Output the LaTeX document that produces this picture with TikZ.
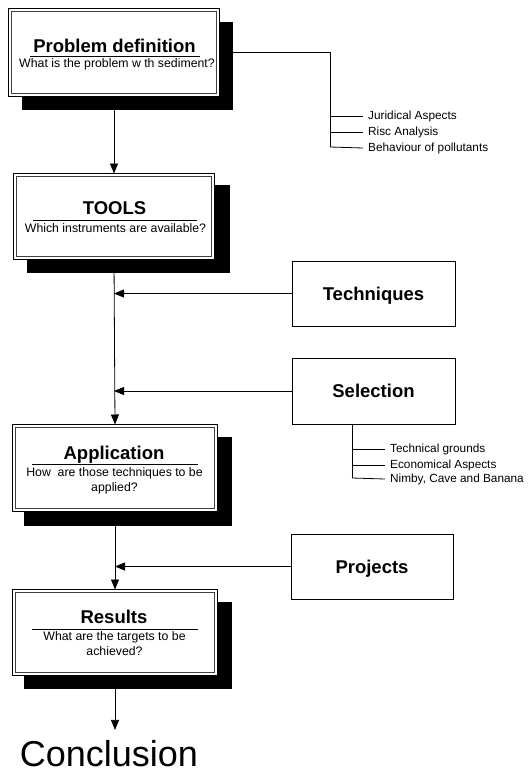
\documentclass[tikz,border=0pt]{standalone}
\usepackage{fontspec}
\setmainfont{Liberation Sans}
\usetikzlibrary{arrows.meta,calc}
\pgfdeclarelayer{bg}
\pgfsetlayers{bg,main}
\newcommand\ttlfont{\fontsize{18.5}{20}\selectfont\bfseries}
\newcommand\subfont{\fontsize{12.3}{15}\selectfont}
\newcommand\brfont{\fontsize{11.8}{14}\selectfont}
\begin{document}
\begin{tikzpicture}[x=1pt,y=-1pt,
  mainbox/.style={draw, line width=1pt, fill=white, inner sep=0pt, outer sep=0pt,
    postaction={draw=none, path picture={
      \draw[line width=0.9pt, black!75] ($(path picture bounding box.north west)+(3,3)$) rectangle ($(path picture bounding box.south east)+(-3,-3)$);}}},
  sidebox/.style={draw, line width=0.9pt, fill=white, inner sep=0pt, outer sep=0pt,
    minimum width=163, minimum height=65, font=\ttlfont, text height=13.3pt, text depth=0pt},
  ttl/.style={anchor=base, inner sep=0pt, font=\ttlfont},
  sub/.style={anchor=base, inner sep=0pt, font=\subfont},
  brtxt/.style={anchor=west, inner xsep=5pt, inner ysep=0pt, font=\brfont},
  rule/.style={line width=0.8pt},
  conn/.style={line width=0.8pt},
  arr/.style={conn, -{Triangle[length=10pt,width=8pt]}}
]
\useasboundingbox (0,0) rectangle (532,774);

% main boxes
\node[mainbox, minimum width=211, minimum height=88] (pd) at (114,52.5) {};
\node[ttl] (pdt) at (114.5,52) {Problem definition};
\draw[rule] (30,56) -- (200,56);
\node[sub] (pds) at (117,67) {What is the problem w th sediment?};

\node[mainbox, minimum width=201, minimum height=86] (tools) at (114,216.5) {};
\node[ttl] (toolst) at (114.5,214) {TOOLS};
\draw[rule] (33,220) -- (197,220);
\node[sub] (toolss) at (115.5,232) {Which instruments are available?};

\node[mainbox, minimum width=205, minimum height=87] (app) at (115,468) {};
\node[ttl] (appt) at (114,459) {Application};
\draw[rule] (32,464) -- (198,464);
\node[sub] (apps1) at (114.5,476) {How~ are those techniques to be};
\node[sub] (apps2) at (114.5,491) {applied?};

\node[mainbox, minimum width=205, minimum height=86] (res) at (115,632.5) {};
\node[ttl] (rest) at (114,623) {Results};
\draw[rule] (32,629) -- (198,629);
\node[sub] (ress1) at (114.5,640) {What are the targets to be};
\node[sub] (ress2) at (114.5,655) {achieved?};

\node[anchor=base, inner sep=0pt, outer sep=0pt, font=\fontsize{36}{40}\selectfont] (concl) at (109,766) {Conclusion};

% side boxes
\node[sidebox] (tech) at (373.5,293.5) {Techniques};
\node[sidebox, minimum height=66] (sel) at (373.5,391) {Selection};
\node[sidebox, minimum width=162] (proj) at (372,566.5) {Projects};

% branch texts
\node[brtxt] (j1) at (363,116) {Juridical Aspects};
\node[brtxt] (j2) at (363,132) {Risc Analysis};
\node[brtxt] (j3) at (363,148) {Behaviour of pollutants};
\coordinate (jp) at (330,147);

\node[brtxt] (s1) at (385,449) {Technical grounds};
\node[brtxt] (s2) at (385,465) {Economical Aspects};
\node[brtxt] (s3) at (385,479) {Nimby, Cave and Banana};
\coordinate (sp) at (352,478);

\begin{pgfonlayer}{bg}
  \draw[arr] (pd.south) -- (tools.north);
  \draw[arr] (tools.south) -- (app.north);
  \draw[arr] (app.south) -- (res.north);
  \draw[arr, shorten >=10pt] (res.south) -- (res.south |- concl.north);
  \draw[arr] (tech.west) -- (tech.west -| tools.south);
  \draw[arr] (sel.west) -- (sel.west -| tools.south);
  \draw[arr] (proj.west) -- (proj.west -| app.south);
  % problem definition branches
  \draw[conn] (pd.east |- 0,52) -| (jp);
  \draw[conn] (j1.west -| jp) -- (j1.west);
  \draw[conn] (j2.west -| jp) -- (j2.west);
  \draw[conn] (jp) -- (j3.west);
  % selection branches
  \draw[conn] (sel.south -| sp) -- (sp);
  \draw[conn] (s1.west -| sp) -- (s1.west);
  \draw[conn] (s2.west -| sp) -- (s2.west);
  \draw[conn] (sp) -- (s3.west);
  % shadows
  \fill (22,22) rectangle (233,110);
  \fill (27,185) rectangle (230,273);
  \fill (24,437) rectangle (232,526);
  \fill (24,602) rectangle (232,689);
\end{pgfonlayer}
\end{tikzpicture}
\end{document}
